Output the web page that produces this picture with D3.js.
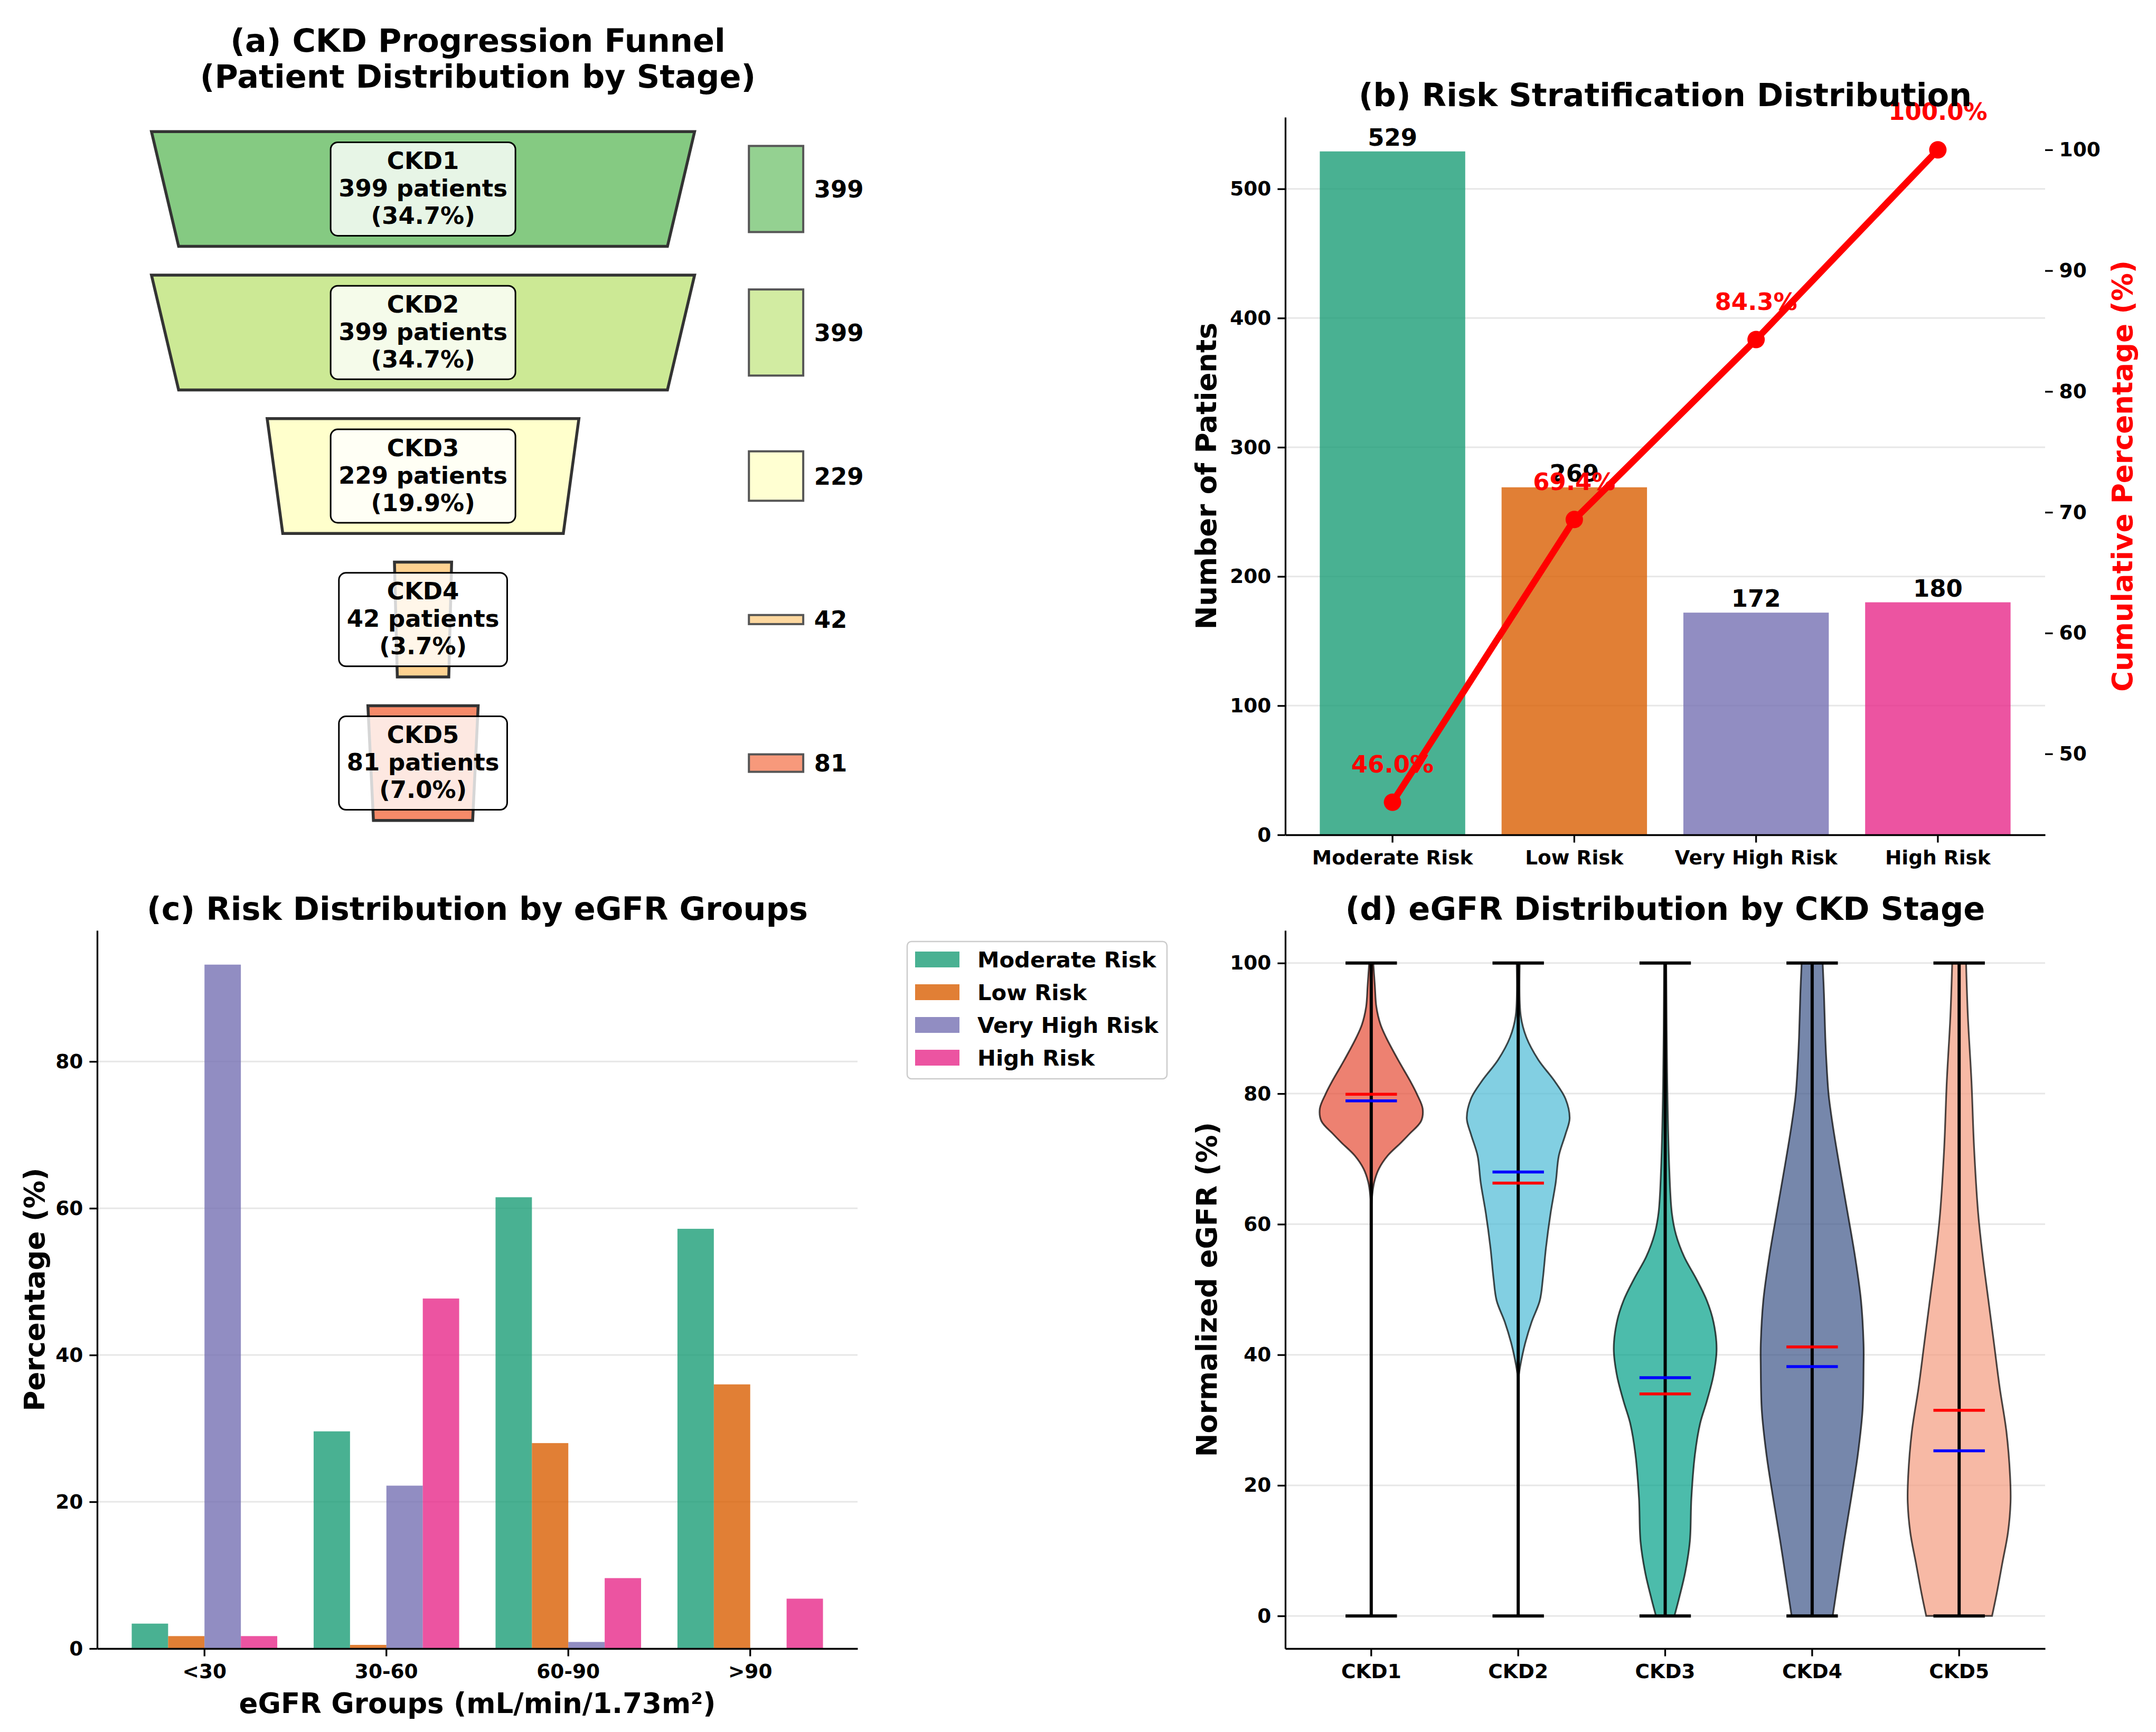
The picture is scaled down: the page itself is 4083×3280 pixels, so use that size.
<!DOCTYPE html>
<html><head><meta charset="utf-8">
<script src="https://cdn.jsdelivr.net/npm/d3@7"></script>
<style>body{margin:0;background:#fff}</style>
</head><body><svg id="c"></svg>
<script>
// ---------------- DATA ----------------
const stages = ["CKD1","CKD2","CKD3","CKD4","CKD5"];
const stageCounts = [399,399,229,42,81];
const stagePercents = [34.7,34.7,19.9,3.7,7.0];
const funnelColors = ["#66bd63","#bfe47a","#ffffbf","#fec776","#f46d43"];

const riskCategories = ["Moderate Risk","Low Risk","Very High Risk","High Risk"];
const riskCounts = [529,269,172,180];
const riskCumPct = [46.0,69.4,84.3,100.0];
const riskColors = ["#1b9e77","#d95f02","#7570b3","#e7298a"];
const leftTicksB = [0,100,200,300,400,500];
const rightTicksB = [50,60,70,80,90,100];

const egfrGroups = ["<30","30-60","60-90",">90"];
const pctModerate = [3.4,29.6,61.5,57.2];
const pctLow = [1.7,0.5,28.0,36.0];
const pctVeryHigh = [93.2,22.2,0.9,0.0];
const pctHigh = [1.7,47.7,9.6,6.8];
const ticksC = [0,20,40,60,80];

const violinColors = ["#E64B35","#4DBBD5","#00A087","#3C5488","#F39B7F"];
const egfrMeans = [79.9,66.3,34.0,41.2,31.5];
const egfrMedians = [78.9,68.0,36.5,38.2,25.3];
const egfrMin = [0,0,0,0,0];
const egfrMax = [100,100,100,100,100];
const ticksD = [0,20,40,60,80,100];
// violin density profiles: [eGFR value, relative half-width]
const violinCKD1 = [[62,0],[64.5,0.02],[66.5,0.06],[68.5,0.15],[70.5,0.32],[72.5,0.58],[73.8,0.74],[75.8,0.97],[77.7,1.0],[79.9,0.89],[81.9,0.76],[85.2,0.52],[88.6,0.29],[90.6,0.18],[93.3,0.1],[96.6,0.07],[100,0.04]];
const violinCKD2 = [[36.2,0],[38.3,0.04],[41.6,0.13],[45,0.26],[48.3,0.42],[51.7,0.48],[56.4,0.54],[61.7,0.63],[66.4,0.73],[70.5,0.79],[73.8,0.92],[76.2,1.0],[79.2,0.92],[81.9,0.71],[85.2,0.39],[88.6,0.16],[91.9,0.05],[100,0.03]];
const violinCKD3 = [[0,0.18],[2.7,0.27],[6.7,0.39],[11.4,0.48],[18.1,0.51],[24.8,0.58],[29.5,0.68],[32.9,0.81],[36.9,0.94],[40.9,1.0],[45,0.94],[48.3,0.81],[51.7,0.6],[55,0.37],[58.4,0.21],[61.7,0.13],[68.5,0.08],[81.9,0.04],[100,0.02]];
const violinCKD4 = [[0,0.40],[4.7,0.49],[11.4,0.62],[18.1,0.76],[24.8,0.89],[31.5,0.98],[38.3,1.0],[41.6,1.0],[48.3,0.95],[55,0.835],[61.7,0.69],[68.5,0.54],[75.2,0.40],[79.9,0.32],[84.6,0.28],[88.6,0.256],[95.3,0.23],[100,0.205]];
const violinCKD5 = [[0,0.64],[3.4,0.73],[8.1,0.84],[12.8,0.95],[17.4,1.0],[21.5,0.99],[28.2,0.92],[34.9,0.79],[41.6,0.68],[48.3,0.57],[55,0.46],[61.7,0.37],[71.8,0.29],[81.9,0.24],[91.9,0.17],[100,0.135]];
const violinProfiles = [violinCKD1,violinCKD2,violinCKD3,violinCKD4,violinCKD5];

// ---------------- SETUP ----------------
const W=4083,H=3280;
const FONT="'DejaVu Sans', sans-serif";
const TICK=37.5, LAB=53, TITLE=60.5, VAL=45, LEG=41.7;
const svg=d3.select("#c").attr("width",W).attr("height",H).attr("viewBox",`0 0 ${W} ${H}`);
svg.append("rect").attr("width",W).attr("height",H).attr("fill","#fff");

function txt(g,x,y,s,size,anchor,fill){
  return g.append("text").attr("x",x).attr("y",y).text(s)
    .attr("font-family",FONT).attr("font-weight","bold").attr("font-size",size)
    .attr("text-anchor",anchor||"middle").attr("fill",fill||"#000");
}
function styleAxis(g,noDomain){
  g.attr("font-size",null).attr("font-family",null);
  if(noDomain) g.select("path.domain").remove();
  else g.select("path.domain").attr("stroke","#000").attr("stroke-width",3.3);
  g.selectAll(".tick line").attr("stroke","#000").attr("stroke-width",3.3);
  g.selectAll(".tick text").attr("font-family",FONT).attr("font-weight","bold").attr("font-size",TICK).attr("fill","#000");
}
function ylabel(g,x,y,s,fill){
  return txt(g,0,0,s,LAB,"middle",fill).attr("transform",`translate(${x},${y}) rotate(-90)`);
}

// ---------------- PANEL A: funnel ----------------
{
  const A={x0:184,x1:1624,y0:222,y1:1581};
  const g=svg.append("g");
  const fx=d3.scaleLinear().domain([-0.6,0.8]).range([A.x0,A.x1]);
  const fy=d3.scaleLinear().domain([-0.5,4.5]).range([A.y0,A.y1]);
  const maxC=d3.max(stageCounts);
  txt(g,905,98,"(a) CKD Progression Funnel",TITLE);
  txt(g,905,166,"(Patient Distribution by Stage)",TITLE);
  stages.forEach((s,i)=>{
    const w=stageCounts[i]/maxC;
    const pts=[[-w/2,i-0.4],[w/2,i-0.4],[0.45*w,i+0.4],[-0.45*w,i+0.4]];
    g.append("polygon").attr("points",pts.map(p=>[fx(p[0]),fy(p[1])].join(",")).join(" "))
      .attr("fill",funnelColors[i]).attr("fill-opacity",0.8)
      .attr("stroke","#333").attr("stroke-width",5.5).attr("stroke-linejoin","miter");
    const box=g.append("rect");
    const lines=[s,`${stageCounts[i]} patients`,`(${stagePercents[i].toFixed(1)}%)`];
    const cy=fy(i);
    let maxW=0;
    lines.forEach((l,k)=>{
      const t=txt(g,fx(0),cy+14+(k-1)*52,l,VAL);
      maxW=Math.max(maxW,t.node().getComputedTextLength());
    });
    box.attr("x",fx(0)-maxW/2-15).attr("y",cy-88.5).attr("width",maxW+30).attr("height",177)
      .attr("rx",13.5).attr("fill","#fff").attr("fill-opacity",0.8)
      .attr("stroke","#000").attr("stroke-width",3);
    const h=stageCounts[i]/maxC*0.6;
    g.append("rect").attr("x",fx(0.6)).attr("width",fx(0.7)-fx(0.6))
      .attr("y",fy(i-h/2)).attr("height",fy(i+h/2)-fy(i-h/2))
      .attr("fill",funnelColors[i]).attr("fill-opacity",0.7)
      .attr("stroke","#555").attr("stroke-width",4);
    txt(g,fx(0.72),cy+16,String(stageCounts[i]),VAL,"start");
  });
}

// ---------------- PANEL B: risk stratification ----------------
{
  const B={x0:2434,x1:3873,y0:222,y1:1581};
  const g=svg.append("g");
  const xs=d3.scaleBand().domain(riskCategories).range([B.x0,B.x1]).paddingInner(0.2).paddingOuter(0.19);
  const ys=d3.scaleLinear().domain([0,d3.max(riskCounts)*1.05]).range([B.y1,B.y0]);
  const ys2=d3.scaleLinear().domain([43.3,102.7]).range([B.y1,B.y0]);
  g.selectAll("line.grid").data(leftTicksB).enter().append("line")
    .attr("x1",B.x0).attr("x2",B.x1).attr("y1",d=>ys(d)).attr("y2",d=>ys(d))
    .attr("stroke","#b0b0b0").attr("stroke-opacity",0.3).attr("stroke-width",3);
  g.selectAll("rect.bar").data(riskCategories).enter().append("rect")
    .attr("x",d=>xs(d)).attr("width",xs.bandwidth())
    .attr("y",(d,i)=>ys(riskCounts[i])).attr("height",(d,i)=>B.y1-ys(riskCounts[i]))
    .attr("fill",(d,i)=>riskColors[i]).attr("fill-opacity",0.8);
  riskCategories.forEach((c,i)=>txt(g,xs(c)+xs.bandwidth()/2,ys(riskCounts[i])-11,String(riskCounts[i]),VAL));
  const ax=g.append("g").attr("transform",`translate(${B.x0},0)`)
    .call(d3.axisLeft(ys).tickValues(leftTicksB).tickSize(14.6).tickSizeOuter(0).tickPadding(12));
  styleAxis(ax);
  const bx=g.append("g").attr("transform",`translate(0,${B.y1})`)
    .call(d3.axisBottom(xs).tickSize(14.6).tickSizeOuter(0).tickPadding(15));
  styleAxis(bx);
  const rx=g.append("g").attr("transform",`translate(${B.x1},0)`)
    .call(d3.axisRight(ys2).tickValues(rightTicksB).tickSize(14.6).tickPadding(12));
  styleAxis(rx,true);
  const cx=c=>xs(c)+xs.bandwidth()/2;
  const line=d3.line().x((d,i)=>cx(riskCategories[i])).y(d=>ys2(d));
  g.append("path").datum(riskCumPct).attr("d",line).attr("fill","none")
    .attr("stroke","#ff0000").attr("stroke-width",12.5).attr("stroke-linejoin","round");
  g.selectAll("circle.pt").data(riskCumPct).enter().append("circle")
    .attr("cx",(d,i)=>cx(riskCategories[i])).attr("cy",d=>ys2(d)).attr("r",16.5).attr("fill","#ff0000");
  riskCumPct.forEach((p,i)=>txt(g,cx(riskCategories[i]),ys2(p+2)-10.6,`${p.toFixed(1)}%`,VAL,"middle","#ff0000"));
  ylabel(g,2303,(B.y0+B.y1)/2,"Number of Patients");
  ylabel(g,4038,(B.y0+B.y1)/2,"Cumulative Percentage (%)","#ff0000");
  txt(g,(B.x0+B.x1)/2,201,"(b) Risk Stratification Distribution",TITLE);
}

// ---------------- PANEL C: risk by eGFR groups ----------------
{
  const C={x0:184,x1:1624,y0:1762,y1:3122};
  const g=svg.append("g");
  const series=[pctModerate,pctLow,pctVeryHigh,pctHigh];
  const xs=d3.scaleBand().domain(egfrGroups).range([C.x0,C.x1]).paddingInner(0.2).paddingOuter(0.19);
  const xi=d3.scaleBand().domain(riskCategories).range([0,xs.bandwidth()]);
  const ys=d3.scaleLinear().domain([0,d3.max(series.flat())*1.05]).range([C.y1,C.y0]);
  g.selectAll("line.grid").data(ticksC).enter().append("line")
    .attr("x1",C.x0).attr("x2",C.x1).attr("y1",d=>ys(d)).attr("y2",d=>ys(d))
    .attr("stroke","#b0b0b0").attr("stroke-opacity",0.3).attr("stroke-width",3);
  riskCategories.forEach((r,k)=>{
    g.selectAll(null).data(egfrGroups).enter().append("rect")
      .attr("x",d=>xs(d)+xi(r)).attr("width",xi.bandwidth())
      .attr("y",(d,j)=>ys(series[k][j])).attr("height",(d,j)=>C.y1-ys(series[k][j]))
      .attr("fill",riskColors[k]).attr("fill-opacity",0.8);
  });
  const ax=g.append("g").attr("transform",`translate(${C.x0},0)`)
    .call(d3.axisLeft(ys).tickValues(ticksC).tickSize(14.6).tickSizeOuter(0).tickPadding(12));
  styleAxis(ax);
  const bx=g.append("g").attr("transform",`translate(0,${C.y1})`)
    .call(d3.axisBottom(xs).tickSize(14.6).tickSizeOuter(0).tickPadding(15));
  styleAxis(bx);
  ylabel(g,84,(C.y0+C.y1)/2,"Percentage (%)");
  txt(g,(C.x0+C.x1)/2,3244,"eGFR Groups (mL/min/1.73m²)",LAB);
  txt(g,(C.x0+C.x1)/2,1742,"(c) Risk Distribution by eGFR Groups",TITLE);
  const lg=g.append("g");
  lg.append("rect").attr("x",1718).attr("y",1783).attr("width",492).attr("height",260).attr("rx",8)
    .attr("fill","#fff").attr("fill-opacity",0.8).attr("stroke","#cccccc").attr("stroke-width",2.5);
  riskCategories.forEach((r,k)=>{
    const yc=1817+k*62;
    lg.append("rect").attr("x",1733).attr("y",yc-15).attr("width",84).attr("height",30)
      .attr("fill",riskColors[k]).attr("fill-opacity",0.8);
    txt(lg,1851,yc+14.5,r,LEG,"start");
  });
}

// ---------------- PANEL D: violins ----------------
{
  const D={x0:2434,x1:3873,y0:1762,y1:3122};
  const g=svg.append("g");
  const xs=d3.scaleBand().domain(stages).range([D.x0,D.x1]).paddingInner(0.3).paddingOuter(0.235);
  const ys=d3.scaleLinear().domain([-5,105]).range([D.y1,D.y0]);
  g.selectAll("line.grid").data(ticksD).enter().append("line")
    .attr("x1",D.x0).attr("x2",D.x1).attr("y1",d=>ys(d)).attr("y2",d=>ys(d))
    .attr("stroke","#b0b0b0").attr("stroke-opacity",0.3).attr("stroke-width",3);
  const hw=xs.bandwidth()/2, cap=xs.bandwidth()/4;
  stages.forEach((s,i)=>{
    const cx=xs(s)+hw;
    const area=d3.area().curve(d3.curveCatmullRom.alpha(0.5))
      .y(d=>ys(d[0])).x0(d=>cx-d[1]*hw).x1(d=>cx+d[1]*hw);
    g.append("path").datum(violinProfiles[i]).attr("d",area)
      .attr("fill",violinColors[i]).attr("fill-opacity",0.7)
      .attr("stroke","#000").attr("stroke-opacity",0.7).attr("stroke-width",3.2);
  });
  stages.forEach((s,i)=>{
    const cx=xs(s)+hw;
    g.append("line").attr("x1",cx).attr("x2",cx).attr("y1",ys(egfrMin[i])).attr("y2",ys(egfrMax[i]))
      .attr("stroke","#000").attr("stroke-width",6);
    [egfrMin[i],egfrMax[i]].forEach(v=>g.append("line").attr("x1",cx-cap).attr("x2",cx+cap)
      .attr("y1",ys(v)).attr("y2",ys(v)).attr("stroke","#000").attr("stroke-width",6));
    g.append("line").attr("x1",cx-cap).attr("x2",cx+cap).attr("y1",ys(egfrMeans[i])).attr("y2",ys(egfrMeans[i]))
      .attr("stroke","#ff0000").attr("stroke-width",5.5);
    g.append("line").attr("x1",cx-cap).attr("x2",cx+cap).attr("y1",ys(egfrMedians[i])).attr("y2",ys(egfrMedians[i]))
      .attr("stroke","#0000ff").attr("stroke-width",5.5);
  });
  const ax=g.append("g").attr("transform",`translate(${D.x0},0)`)
    .call(d3.axisLeft(ys).tickValues(ticksD).tickSize(14.6).tickSizeOuter(0).tickPadding(12));
  styleAxis(ax);
  const bx=g.append("g").attr("transform",`translate(0,${D.y1})`)
    .call(d3.axisBottom(xs).tickSize(14.6).tickSizeOuter(0).tickPadding(15));
  styleAxis(bx);
  ylabel(g,2304,(D.y0+D.y1)/2,"Normalized eGFR (%)");
  txt(g,(D.x0+D.x1)/2,1742,"(d) eGFR Distribution by CKD Stage",TITLE);
}
</script></body></html>
